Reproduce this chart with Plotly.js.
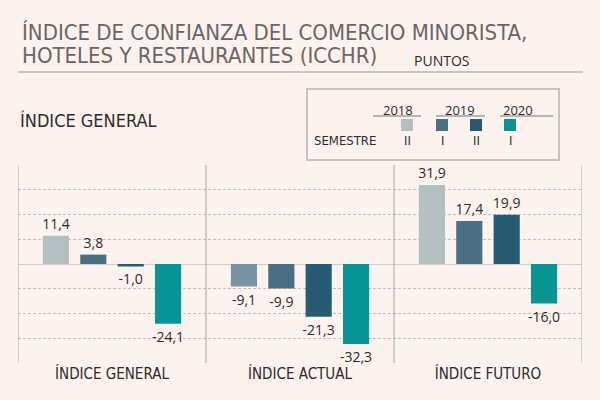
<!DOCTYPE html>
<html>
<head>
<meta charset="utf-8">
<script src="https://cdn.plot.ly/plotly-3.0.1.min.js"></script>
<style>html,body{margin:0;padding:0;background:#fdf3ee;}</style>
</head>
<body>
<div id="chart" style="width:600px;height:400px;"></div>
<script>
var categories = ['ÍNDICE GENERAL', 'ÍNDICE ACTUAL', 'ÍNDICE FUTURO'];
var s2018II = [11.4, -9.1, 31.9];
var s2019I = [3.8, -9.9, 17.4];
var s2019II = [-1.0, -21.3, 19.9];
var s2020I = [-24.1, -32.3, -16.0];
var years = ['2018', '2019', '2020'];
var semesters = ['II', 'I', 'II', 'I'];

var COND = '"Liberation Sans Narrow", "DejaVu Sans Condensed", sans-serif';
var NUM = '"Open Sans", sans-serif';
var W = 600, H = 400, ML = 18, MR = 18, MT = 165, MB = 37;
var PW = W - ML - MR, PH = H - MT - MB;
function px(x) { return (x - ML) / PW; }
function py(y) { return (H - MB - y) / PH; }

function bar(y, color, name) {
  return {
    type: 'bar', x: categories, y: y, name: name,
    marker: {color: color, line: {width: 0}},
    text: y.map(function (v) { return v.toFixed(1).replace('.', ','); }),
    textposition: 'outside', cliponaxis: false, constraintext: 'none',
    textfont: {family: NUM, size: 14, color: '#2b2b2b'},
    hoverinfo: 'skip'
  };
}
var c1 = '#b4bfc1', c1b = '#7895a5', c2 = '#4a6f83', c3 = '#275b71', c4 = '#069593';
var traces = [
  bar(s2018II, [c1, c1b, c1], '2018 II'),
  bar(s2019I, c2, '2019 I'),
  bar(s2019II, c3, '2019 II'),
  bar(s2020I, c4, '2020 I')
];

var shapes = [];
[-0.5, 0.5, 1.5, 2.5].forEach(function (x) {
  shapes.push({type: 'line', xref: 'x', yref: 'paper', x0: x, x1: x, y0: 0, y1: 1,
    line: {color: '#a8a3a0', width: 1}});
});
shapes.push({type: 'line', xref: 'paper', yref: 'paper', x0: px(18), x1: px(583), y0: py(72), y1: py(72),
  line: {color: '#9a9592', width: 1}});
shapes.push({type: 'rect', xref: 'paper', yref: 'paper', x0: px(307), x1: px(559), y0: py(89), y1: py(160),
  line: {color: '#c9c2be', width: 2}});
[[373, 421], [436, 485], [500, 553]].forEach(function (s) {
  shapes.push({type: 'line', xref: 'paper', yref: 'paper', x0: px(s[0]), x1: px(s[1]), y0: py(116), y1: py(116),
    line: {color: '#777', width: 1}});
});
var sqX = [401, 436, 470, 504];
var sqC = [c1, c2, c3, c4];
sqX.forEach(function (x, i) {
  shapes.push({type: 'rect', xref: 'paper', yref: 'paper', x0: px(x), x1: px(x + 12), y0: py(131), y1: py(119),
    fillcolor: sqC[i], line: {width: 0}});
});

var annotations = [];
function txt(t, x, y, size, color, font, xanchor) {
  annotations.push({text: t, xref: 'paper', yref: 'paper', x: px(x), y: py(y), showarrow: false,
    xanchor: xanchor || 'left', yanchor: 'middle', font: {family: font, size: size, color: color}});
}
txt('ÍNDICE DE CONFIANZA DEL COMERCIO MINORISTA,', 20, 32, 22, '#6b6563', COND);
txt('HOTELES Y RESTAURANTES (ICCHR)', 20, 55, 22, '#6b6563', COND);
txt('PUNTOS', 412, 61, 14, '#2b2b2b', NUM);
txt('ÍNDICE GENERAL', 18, 120, 18, '#2b2b2b', COND);
var yX = [398, 460, 518];
years.forEach(function (y, i) { txt(y, yX[i], 110, 13, '#2b2b2b', NUM, 'center'); });
semesters.forEach(function (s, i) { txt(s, sqX[i] + 6, 140, 13, '#2b2b2b', COND, 'center'); });
txt('SEMESTRE', 345, 140, 13, '#2b2b2b', COND, 'center');

var layout = {
  width: W, height: H,
  margin: {l: ML, r: MR, t: MT, b: MB, pad: 0},
  paper_bgcolor: '#fdf3ee', plot_bgcolor: '#fdf3ee',
  separators: ',.',
  barmode: 'group', bargap: 0.205, bargroupgap: 0.3,
  showlegend: false,
  xaxis: {type: 'category', range: [-0.5, 2.5], showgrid: false, zeroline: false, showline: false,
    ticks: '', tickfont: {family: COND, size: 15, color: '#2b2b2b'}, fixedrange: true},
  yaxis: {range: [-40, 40], dtick: 10, showticklabels: false, ticks: '',
    showgrid: true, gridcolor: '#c4bebb', griddash: '3px,2px', gridwidth: 1,
    zeroline: true, zerolinecolor: '#d4cdca', zerolinewidth: 1, showline: false, fixedrange: true},
  shapes: shapes,
  annotations: annotations
};
Plotly.newPlot('chart', traces, layout, {displayModeBar: false, staticPlot: true});
</script>
</body>
</html>
